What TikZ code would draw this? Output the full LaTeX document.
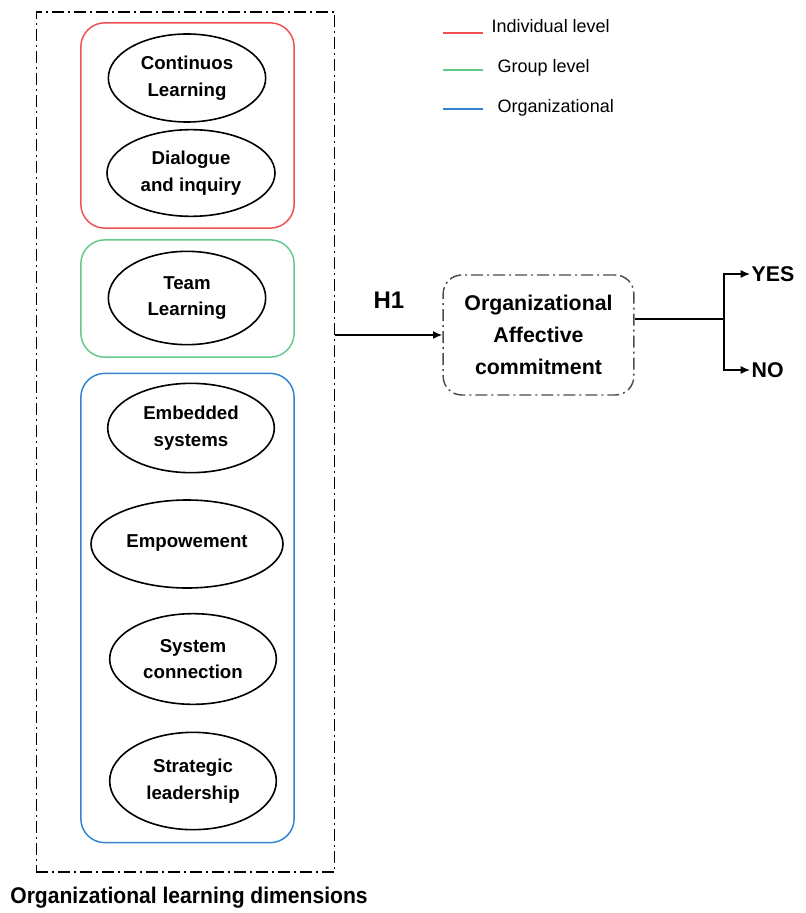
\documentclass[tikz,border=0pt]{standalone}
\usepackage{fontspec}
\setmainfont{Liberation Sans}
\usepackage{tikz}
\usetikzlibrary{shapes.geometric,arrows.meta}

\definecolor{indred}{RGB}{240,80,80}
\definecolor{grpgreen}{RGB}{100,200,140}
\definecolor{orgblue}{RGB}{50,130,210}

\begin{document}
\begin{tikzpicture}[x=0.75pt,y=-0.75pt,
  font=\fontsize{14}{20}\selectfont\bfseries,
  dim/.style={draw,ellipse,line width=1.2pt,inner sep=0pt,align=center},
  level/.style={draw,rounded corners=18pt,line width=1.1pt,minimum width=160pt},
  dashdot/.style={dash pattern=on 9pt off 3pt on 1.5pt off 3pt},
  tip/.style={-{Latex[length=7pt,width=6pt]}}]

\useasboundingbox (0,0) rectangle (806,913);

\node[draw,dashdot,line width=0.9pt,minimum width=224pt,minimum height=645pt] (olbox) at (185.5,442) {};
\node[font=\addfontfeature{FakeStretch=0.93}\fontsize{17}{20}\selectfont\bfseries] (oltitle) at (189,898) {Organizational learning dimensions};

\node[level,draw=indred,minimum height=154pt] (indiv) at (187.5,125.5) {};
\node[level,draw=grpgreen,minimum height=88pt] (group) at (187.5,298.5) {};
\node[level,draw=orgblue,minimum height=352pt] (orgl) at (187.5,608) {};

\node[dim,minimum width=118pt,minimum height=66pt] (cont) at (187,78) {Continuos\\Learning};
\node[dim,minimum width=126pt,minimum height=65pt] (dial) at (191,173) {Dialogue\\and inquiry};
\node[dim,minimum width=118pt,minimum height=70pt] (team) at (187,298) {Team\\Learning};
\node[dim,minimum width=125pt,minimum height=67pt] (embed) at (191,428) {Embedded\\systems};
\node[dim,minimum width=144pt,minimum height=66pt] (empow) at (187,544) {\raisebox{4.5pt}{Empowement}};
\node[dim,minimum width=125pt,minimum height=68pt] (syscon) at (193,659) {System\\connection};
\node[dim,minimum width=125pt,minimum height=73pt] (strat) at (193,781) {Strategic\\leadership};

\draw[indred,line width=1.5pt] (443,33) -- (483,33);
\node[anchor=west,font=\fontsize{13.5}{16}\selectfont] (lind) at (487,26) {Individual level};
\draw[grpgreen,line width=1.5pt] (443,70) -- (483,70);
\node[anchor=west,font=\fontsize{13.5}{16}\selectfont] (lgrp) at (493,68) {Group level};
\draw[orgblue,line width=1.5pt] (443,109) -- (483,109);
\node[anchor=west,font=\fontsize{13.5}{16}\selectfont] (lorg) at (493,108) {Organizational};

\node[draw=gray!60!black,dashdot,rounded corners=14pt,line width=1.1pt,minimum width=143pt,minimum height=90pt,align=center,font=\fontsize{16}{24}\selectfont\bfseries] (oac) at (538.5,335) {Organizational\\Affective\\commitment};

\draw[line width=1.5pt,tip] (olbox.east |- oac.west) -- node[above=16pt,font=\fontsize{18}{20}\selectfont\bfseries] (h1) {H1} (oac.west);

\coordinate (fork) at (724,319);
\node[anchor=west,inner sep=1pt,font=\fontsize{16}{20}\selectfont\bfseries] (yes) at (750,274) {YES};
\node[anchor=west,inner sep=1pt,font=\fontsize{16}{20}\selectfont\bfseries] (no) at (750,370) {NO};
\draw[line width=0.9pt] (oac.east |- fork) -- (fork);
\draw[line width=0.9pt,tip] (fork) |- (yes.west);
\draw[line width=0.9pt,tip] (fork) |- (no.west);

\end{tikzpicture}
\end{document}
